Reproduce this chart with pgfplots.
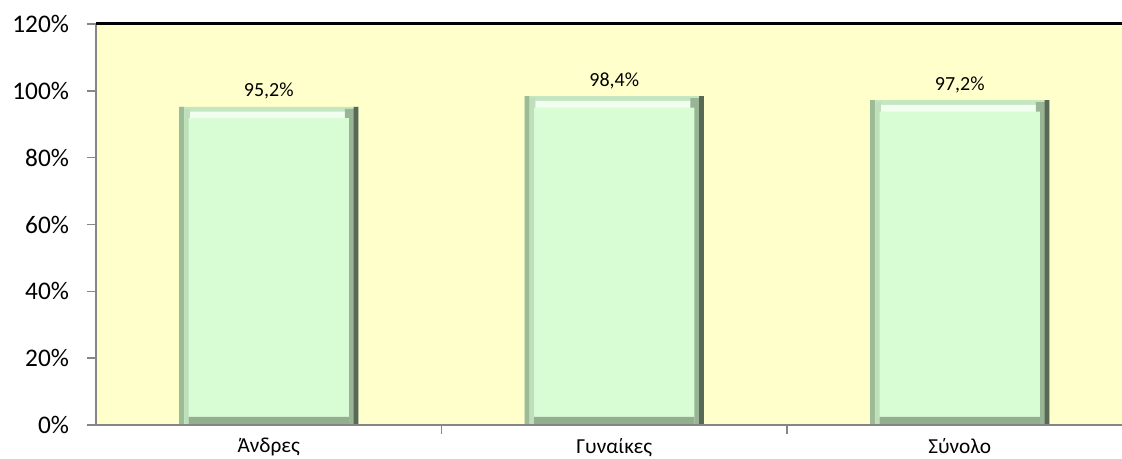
\documentclass[border=0pt]{standalone}
\usepackage{fontspec}
\setmainfont{Carlito}
\usepackage{pgfplots}
\usepackage{pgfplotstable}
\pgfplotsset{compat=1.18}
\definecolor{bg}{HTML}{FFFFCC}
\definecolor{barface}{HTML}{D8FCD4}
\definecolor{axisgray}{HTML}{868686}
\definecolor{bvtop}{HTML}{C4E6C0}
\definecolor{bvhi}{HTML}{F2FFF0}
\definecolor{bvleftA}{HTML}{9CBC98}
\definecolor{bvleftB}{HTML}{BEDFBA}
\definecolor{bvrightA}{HTML}{9AB596}
\definecolor{bvrightB}{HTML}{586A56}
\definecolor{bvbot}{HTML}{93AF8F}
\pgfplotsset{/pgf/number format/assume math mode=true}
\pgfplotstableread{
x v
0 95.2
1 98.4
2 97.2
}\data
\pgfplotstableread{
x v
0 2.4
1 2.4
2 2.4
}\bottomband
\begin{document}
\begin{tikzpicture}[x=1pt,y=1pt]
\path[use as bounding box] (-72,-25.5) rectangle (769.5,318.75);
\begin{axis}[
  at={(0,0)}, anchor=south west,
  scale only axis, width=777.4pt, height=300.75pt,
  xmin=-0.5, xmax=2.5, ymin=0, ymax=120,
  axis background/.style={fill=bg},
  axis line style={draw=none},
  ybar,
  xtick={0,1,2}, xticklabels={Άνδρες,Γυναίκες,Σύνολο},
  x tick style={draw=none},
  x tick label style={font=\fontsize{16}{19}\selectfont, yshift=0.5pt},
  ytick={0,20,...,120},
  yticklabel={\pgfmathprintnumber{\tick}\%},
  y tick label style={font=\fontsize{19}{23}\selectfont, xshift=-10pt},
  y tick style={draw=axisgray, line width=1.2pt},
  tick align=outside, major tick length=6.75pt,
  clip=false,
]
% outer bar (top bevel colour) with labels
\addplot[fill=bvtop, draw=none, bar width=134.25pt, bar shift=0pt,
  nodes near coords={\pgfmathprintnumber[fixed,fixed zerofill,precision=1,use comma]{\pgfplotspointmeta}\%},
  every node near coord/.append style={font=\fontsize{15}{18}\selectfont, black, yshift=2pt}]
  table[x=x,y=v] {\data};
% highlight band
\addplot[fill=bvhi, draw=none, bar width=121pt, bar shift=0pt]
  table[x=x,y expr=\thisrow{v}-1.4] {\data};
% right bevel (outer dark, inner lighter)
\addplot[fill=bvrightA, draw=none, bar width=7pt, bar shift=60.6pt]
  table[x=x,y expr=\thisrow{v}-0.6] {\data};
\addplot[fill=bvrightB, draw=none, bar width=3.5pt, bar shift=65.4pt]
  table[x=x,y=v] {\data};
% left bevel
\addplot[fill=bvleftB, draw=none, bar width=4pt, bar shift=-61.1pt]
  table[x=x,y expr=\thisrow{v}-0.6] {\data};
\addplot[fill=bvleftA, draw=none, bar width=3.5pt, bar shift=-65.4pt]
  table[x=x,y=v] {\data};
% face
\addplot[fill=barface, draw=none, bar width=120.25pt, bar shift=0pt]
  table[x=x,y expr=\thisrow{v}-3.4] {\data};
% bottom bevel
\addplot[fill=bvbot, draw=none, bar width=120.25pt, bar shift=0pt]
  table[x=x,y=v] {\bottomband};
\draw[axisgray, line width=1.5pt] (rel axis cs:0,0) -- (rel axis cs:1,0);
\draw[axisgray, line width=1.5pt] (rel axis cs:0,0) -- (rel axis cs:0,1);
\draw[black, line width=2.25pt] (rel axis cs:0,1) -- (rel axis cs:1,1);
\draw[axisgray, line width=1.2pt] (axis cs:0.5,0) -- ([yshift=-6.75pt]axis cs:0.5,0);
\draw[axisgray, line width=1.2pt] (axis cs:1.5,0) -- ([yshift=-6.75pt]axis cs:1.5,0);
\end{axis}
\end{tikzpicture}
\end{document}
